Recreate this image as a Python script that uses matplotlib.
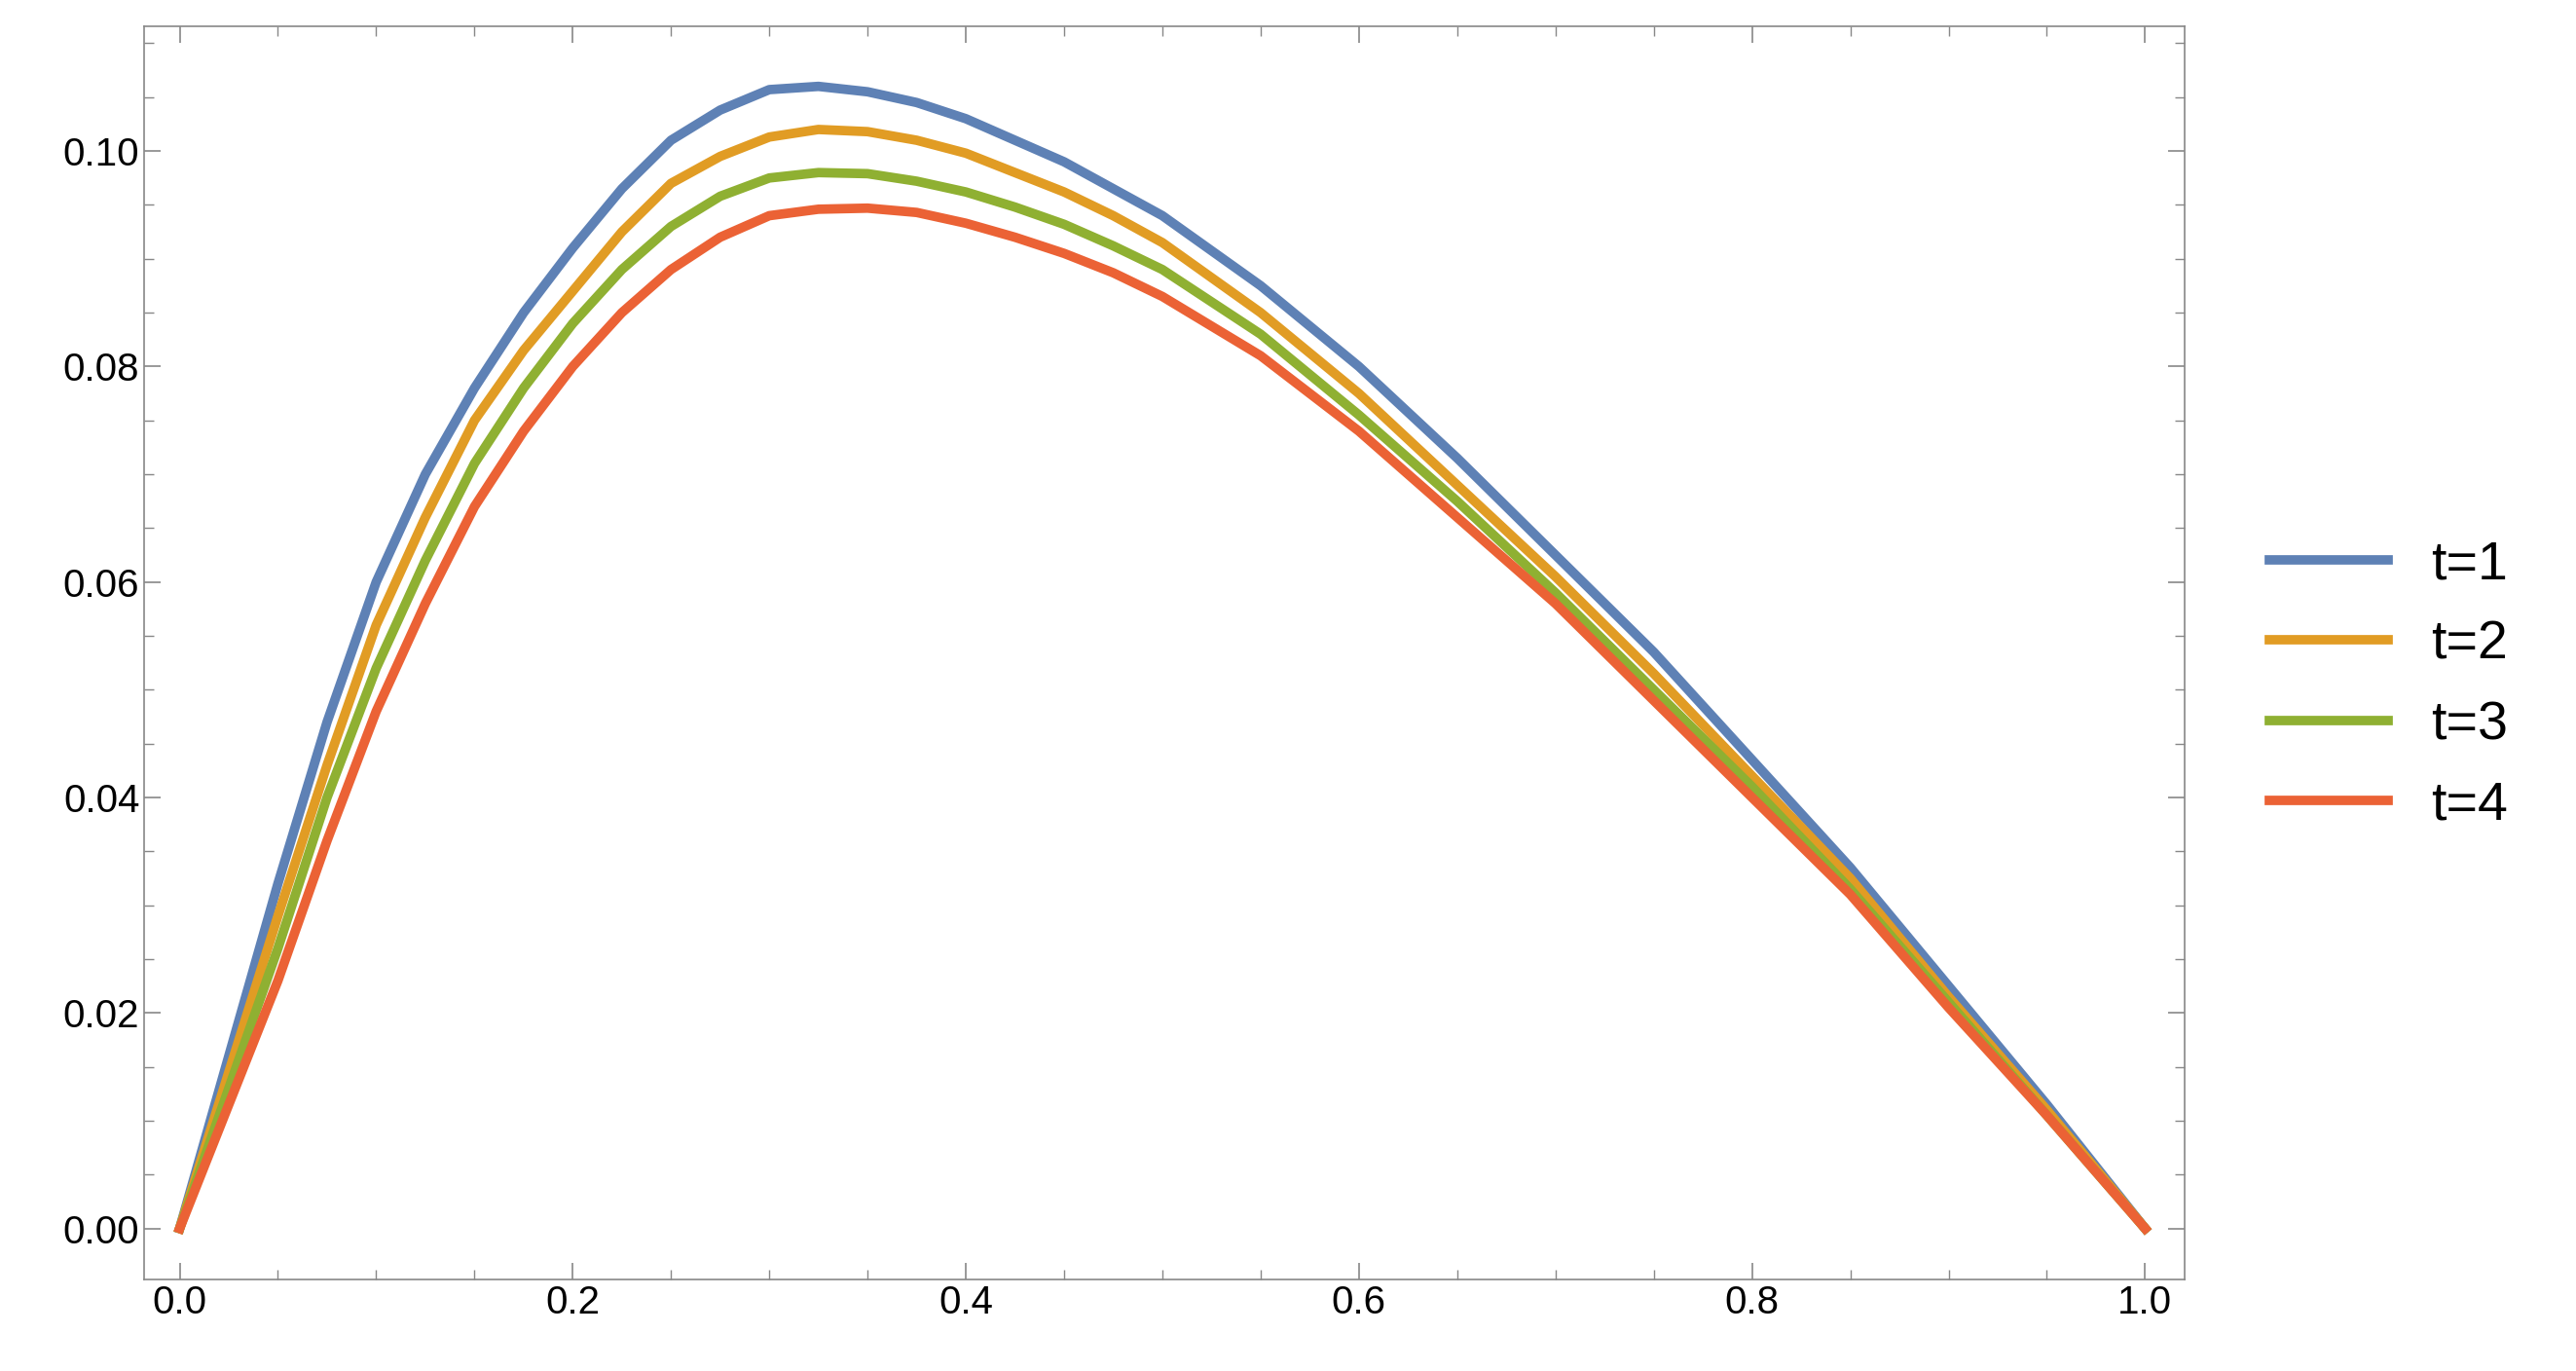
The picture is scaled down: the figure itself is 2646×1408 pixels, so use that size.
import matplotlib
matplotlib.use("Agg")
import matplotlib.pyplot as plt
from matplotlib.ticker import MultipleLocator, FormatStrFormatter

x = [0,0.025,0.05,0.075,0.1,0.125,0.15,0.175,0.2,0.225,0.25,0.275,0.3,0.325,0.35,0.375,0.4,0.425,0.45,0.475,0.5,
     0.55,0.6,0.65,0.7,0.75,0.8,0.85,0.9,0.95,1.0]
t1 = [0,0.016,0.032,0.047,0.060,0.070,0.078,0.085,0.091,0.0965,0.101,0.1038,0.1057,0.1060,0.1055,0.1045,0.1030,0.1010,0.0990,0.0965,0.094,
      0.0875,0.080,0.0715,0.0625,0.0535,0.0435,0.0335,0.0225,0.0115,0]
t2 = [0,0.0145,0.029,0.043,0.056,0.066,0.075,0.0815,0.087,0.0925,0.097,0.0995,0.1013,0.1020,0.1018,0.1010,0.0998,0.0980,0.0962,0.0940,0.0915,
      0.085,0.0775,0.069,0.0605,0.0515,0.042,0.0325,0.0215,0.011,0]
t3 = [0,0.013,0.026,0.040,0.052,0.062,0.071,0.078,0.084,0.089,0.093,0.0958,0.0975,0.0980,0.0979,0.0972,0.0962,0.0948,0.0932,0.0912,0.089,
      0.083,0.0755,0.0675,0.059,0.050,0.041,0.0315,0.021,0.0105,0]
t4 = [0,0.0115,0.023,0.036,0.048,0.058,0.067,0.074,0.080,0.085,0.089,0.092,0.0940,0.0946,0.0947,0.0943,0.0933,0.0920,0.0905,0.0887,0.0865,
      0.081,0.074,0.066,0.058,0.049,0.040,0.031,0.0205,0.0105,0]
labels = ["t=1", "t=2", "t=3", "t=4"]
colors = ["#5E81B5", "#E19C24", "#8FB032", "#EB6235"]

plt.rcParams['font.family'] = ['Liberation Sans', 'DejaVu Sans']
fig = plt.figure(figsize=(26.46, 14.08), dpi=100)
ax = fig.add_axes([0.056, 0.067, 0.792, 0.914])
for ys, lab, c in zip([t1, t2, t3, t4], labels, colors):
    ax.plot(x, ys, color=c, lw=7, label=lab, solid_joinstyle='round')
ax.set_xlim(-0.018, 1.02)
ax.set_ylim(-0.0047, 0.1116)
ax.xaxis.set_major_locator(MultipleLocator(0.2))
ax.xaxis.set_minor_locator(MultipleLocator(0.05))
ax.yaxis.set_major_locator(MultipleLocator(0.02))
ax.yaxis.set_minor_locator(MultipleLocator(0.005))
ax.xaxis.set_major_formatter(FormatStrFormatter('%.1f'))
ax.yaxis.set_major_formatter(FormatStrFormatter('%.2f'))
ax.tick_params(which='both', direction='in', top=True, right=True, color='#888888')
ax.tick_params(which='major', length=12, width=1.2, labelsize=29)
ax.tick_params(which='minor', length=7, width=1)
for s in ax.spines.values():
    s.set_color('#888888')
    s.set_linewidth(1.2)
fig.legend(loc='center left', bbox_to_anchor=(0.862, 0.5), frameon=False,
           fontsize=40, handlelength=2.2, labelspacing=0.55)
fig.savefig("out.png", dpi=100)
